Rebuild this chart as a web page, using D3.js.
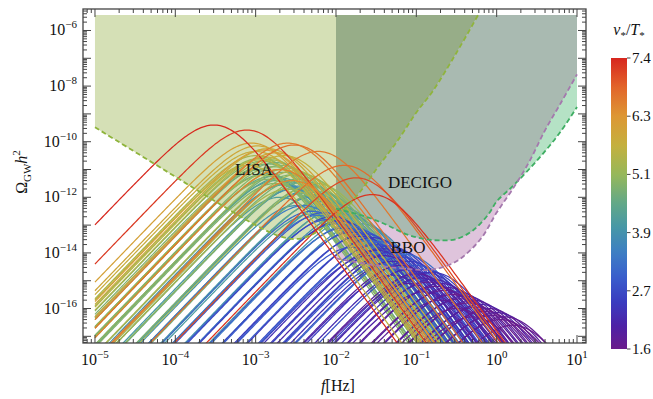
<!DOCTYPE html>
<html>
<head>
<meta charset="utf-8">
<script src="https://cdn.jsdelivr.net/npm/d3@7"></script>
<style>
  body { margin: 0; background: #fff; }
  text { font-family: "Liberation Serif", "Times New Roman", serif; fill: #111; }
</style>
</head>
<body>
<svg id="chart" width="653" height="399"></svg>
<script>
// ---- detector sensitivity curves (log10 f, log10 Omega h^2) ----
const fillTopLog = -5.44;
const lisaLogF = [-5, -4, -3.5, -3, -2.7, -2.5, -2.3, -2.1, -1.9, -1.7, -1.5, -1.23, -1.0, -0.8, -0.5, -0.23];
const lisaLogOmega = [-9.48, -11.26, -12.15, -13.0, -13.4, -13.5, -13.35, -12.95, -12.45, -11.8, -11.0, -9.95, -8.95, -8.2, -6.8, -5.44];
const decigoLogF = [-2, -1.66, -1.4, -1.12, -0.9, -0.71, -0.5, -0.3, -0.1, 0, 0.2, 0.4, 0.6, 0.79, 1.0];
const decigoLogOmega = [-12.41, -12.67, -12.95, -13.33, -13.5, -13.55, -13.5, -13.2, -12.6, -12.15, -11.6, -11.0, -10.35, -9.66, -8.75];
const bboLogF = [-2, -1.5, -1.0, -0.8, -0.5, -0.2, 0, 0.2, 0.4, 0.6, 0.8, 1.0];
const bboLogOmega = [-14.2, -14.45, -14.6, -14.6, -14.3, -13.5, -12.55, -11.7, -10.75, -9.6, -8.6, -7.58];

// ---- GW spectra: [log10 peak f, log10 peak Omega h^2, v*/T*] ----
const tealPeaks = [
  [-2.95,-11.00,4.40],[-2.88,-11.15,4.20],[-2.80,-11.25,4.50],[-2.75,-11.40,4.00],[-2.70,-11.30,4.30],
  [-2.64,-11.55,3.90],[-2.58,-11.45,4.45],[-2.52,-11.70,4.10],[-2.46,-11.60,3.80],[-2.40,-11.85,4.35],
  [-2.35,-11.75,4.00],[-2.30,-12.00,3.75],[-2.25,-11.90,4.25],[-2.20,-12.15,3.95],[-2.15,-12.05,4.50],
  [-2.10,-12.30,3.70],[-2.05,-12.20,4.15],[-2.00,-12.45,3.85],[-1.95,-12.35,4.40],[-1.88,-12.60,3.75],
  [-1.80,-12.75,4.05],[-1.70,-12.95,3.80],[-2.70,-12.00,4.20],[-2.50,-12.30,3.90],[-2.30,-12.60,4.10]
];
const greenPeaks = [
  [-3.00,-10.50,5.30],[-2.95,-10.60,5.10],[-2.92,-10.70,4.95],[-2.88,-10.55,5.40],[-2.85,-10.80,4.80],
  [-2.82,-10.65,5.20],[-2.78,-10.90,5.00],[-2.75,-10.75,4.70],[-2.70,-11.00,5.25],[-2.68,-10.85,4.90],
  [-2.64,-11.10,4.65],[-2.60,-10.95,5.05],[-2.56,-11.20,4.85],[-2.52,-11.05,5.35],[-2.48,-11.35,4.75],
  [-2.45,-11.15,5.15],[-2.40,-11.45,4.60],[-2.36,-11.30,5.00],[-2.32,-11.60,4.80],[-2.25,-11.50,5.20],
  [-2.20,-11.80,4.70],[-2.90,-11.20,5.10],[-2.75,-11.50,4.90],[-2.60,-11.70,5.30],[-2.98,-11.00,4.85],
  [-2.84,-11.35,4.95]
];
const bluePeaks = [
  [-2.40,-12.30,3.50],[-2.30,-12.50,3.20],[-2.22,-12.65,3.40],[-2.15,-12.55,2.95],[-2.10,-12.80,3.10],
  [-2.05,-12.70,2.70],[-2.00,-12.95,3.30],[-1.95,-12.85,2.55],[-1.90,-13.10,2.85],[-1.85,-13.00,3.45],
  [-1.80,-13.25,2.60],[-1.75,-13.15,3.00],[-1.70,-13.40,2.45],[-1.65,-13.30,2.80],[-1.60,-13.55,3.15],
  [-1.55,-13.45,2.50],[-1.50,-13.70,2.75],[-1.45,-13.60,3.05],[-1.40,-13.85,2.40],[-1.35,-13.75,2.65],
  [-1.30,-14.00,2.90],[-1.25,-13.90,2.45],[-1.20,-14.15,2.70],[-1.15,-14.05,3.25],[-1.10,-14.30,2.50],
  [-1.00,-14.45,2.80],[-0.90,-14.60,2.55],[-1.80,-13.80,2.90],[-1.60,-14.10,2.60],[-1.40,-14.40,3.00],
  [-0.80,-14.70,2.40]
];
const purplePeaks = [
  [-1.50,-13.90,2.30],[-1.40,-14.10,2.10],[-1.30,-14.30,2.25],[-1.20,-14.45,1.95],[-1.10,-14.60,2.20],
  [-1.00,-14.75,1.85],[-0.95,-14.90,2.05],[-0.90,-14.70,2.35],[-0.85,-15.05,1.75],[-0.80,-14.95,2.15],
  [-0.75,-15.20,1.70],[-0.70,-15.10,2.00],[-0.65,-15.35,1.65],[-0.60,-15.25,1.90],[-0.55,-15.50,1.60],
  [-0.50,-15.40,2.10],[-0.45,-15.65,1.75],[-0.40,-15.55,1.95],[-0.35,-15.80,1.62],[-0.30,-15.70,1.85],
  [-0.25,-15.95,1.68],[-0.20,-15.85,2.05],[-0.15,-16.10,1.60],[-0.10,-16.00,1.80],[-0.05,-16.25,1.66],
  [0.00,-16.15,1.90],[0.05,-16.40,1.62],[0.10,-16.30,1.72],[0.20,-16.60,1.60],[-1.30,-14.80,2.20],
  [-1.10,-15.10,1.90],[-0.90,-15.40,2.00],[-0.70,-15.70,1.80],[-0.50,-16.00,1.70],[-0.30,-16.30,1.65]
];
const yellowPeaks = [
  [-3.05,-10.05,6.05],[-2.98,-10.15,5.90],[-3.00,-10.35,5.75],[-2.90,-10.30,6.15],[-3.10,-10.85,5.60],
  [-2.85,-10.25,5.80],[-2.75,-10.40,6.00],[-2.65,-10.50,5.70],[-2.95,-10.65,5.55]
];
const redPeaks = [
  [-3.52,-9.40,7.40],[-3.11,-9.58,7.25],[-2.60,-10.05,6.55],[-2.52,-10.12,6.70],[-2.22,-10.35,6.60],
  [-1.90,-10.85,6.75],[-1.75,-11.30,7.10],[-1.55,-11.90,7.30],[-2.70,-11.00,6.50],[-2.55,-11.40,6.45]
];

// colour bar
const cbTicks = [1.58, 2.748, 3.916, 5.084, 6.252, 7.42];
const cmapStops = [0, 0.08, 0.16, 0.25, 0.33, 0.42, 0.5, 0.6, 0.7, 0.8, 0.9, 1];
const cmapColors = ["#6a1b8b","#4d22a6","#3a3bbf","#3a5fcc","#3d7ec4","#4798a6","#62a888","#96b85a","#c4b03e","#dd9734","#e2652a","#d7261e"];

const xTickExp = [-5, -4, -3, -2, -1, 0, 1];
const yLabelExp = [-16, -14, -12, -10, -8, -6];

// ---- layout ----
const L = 83, R = 586, T = 9, B = 343;
const svg = d3.select('#chart');
const x = d3.scaleLog().domain([Math.pow(10, -5.149), Math.pow(10, 1.112)]).range([L, R]);
const y = d3.scaleLog().domain([Math.pow(10, -17.24), Math.pow(10, -5.227)]).range([B, T]);
const vmin = cbTicks[0], vmax = cbTicks[cbTicks.length - 1];
const color = d3.scaleLinear()
  .domain(cmapStops.map(t => vmin + t * (vmax - vmin)))
  .range(cmapColors)
  .interpolate(d3.interpolateRgb);

const defs = svg.append('defs');
defs.append('clipPath').attr('id', 'plotclip')
  .append('rect').attr('x', L).attr('y', T).attr('width', R - L).attr('height', B - T);

const pts = (lf, lo) => lf.map((f, i) => [x(Math.pow(10, f)), y(Math.pow(10, lo[i]))]);
const curveLine = d3.line().curve(d3.curveCatmullRom.alpha(0.5));

function regionPath(lf, lo) {
  const p = pts(lf, lo);
  const top = y(Math.pow(10, fillTopLog));
  const c = curveLine(p).replace(/^M/, 'L');
  return `M${p[0][0]},${top}` + c + `L${p[p.length - 1][0]},${top}Z`;
}
const lisaArea = regionPath(lisaLogF, lisaLogOmega);
const decigoArea = regionPath(decigoLogF, decigoLogOmega);
const bboArea = regionPath(bboLogF, bboLogOmega);

defs.append('clipPath').attr('id', 'decclip').append('path').attr('d', decigoArea);
const unionClip = defs.append('clipPath').attr('id', 'unionclip');
unionClip.append('path').attr('d', decigoArea);
unionClip.append('path').attr('d', bboArea);

const plot = svg.append('g').attr('clip-path', 'url(#plotclip)');

// filled sensitivity regions
plot.append('path').attr('d', bboArea).attr('fill', '#dfc4dc');
plot.append('path').attr('d', decigoArea).attr('fill', '#b5e2c5');
plot.append('path').attr('d', bboArea).attr('fill', '#a9bab1').attr('clip-path', 'url(#decclip)');
plot.append('path').attr('d', lisaArea).attr('fill', '#d5e0b6');
plot.append('g').attr('clip-path', 'url(#unionclip)')
  .append('path').attr('d', lisaArea).attr('fill', '#97ad88');

// GW spectra (sound-wave spectral shape around each peak)
const sampleLogF = d3.range(-5, 1.0001, 0.02);
function spectrum(p) {
  return sampleLogF.map(lf => {
    const u = lf - p[0];
    const s2 = Math.pow(10, 2 * u);
    let lo = p[1] + 3 * u + 3.5 * Math.log10(7 / (4 + 3 * s2));
    lo = Math.max(lo, -18.5);
    return [x(Math.pow(10, lf)), y(Math.pow(10, lo))];
  });
}
const allPeaks = [].concat(tealPeaks, greenPeaks, bluePeaks, purplePeaks, yellowPeaks, redPeaks);
const specLine = d3.line();
plot.append('g').selectAll('path')
  .data(allPeaks)
  .enter()
  .append('path')
  .attr('d', d => specLine(spectrum(d)))
  .attr('fill', 'none')
  .attr('stroke', d => color(d[2]))
  .attr('stroke-width', 1.25);

// dashed borders
const dashed = [
  [lisaLogF, lisaLogOmega, '#8fb43c'],
  [decigoLogF, decigoLogOmega, '#3fae63'],
  [bboLogF, bboLogOmega, '#a478ad']
];
dashed.forEach(d => {
  plot.append('path')
    .attr('d', curveLine(pts(d[0], d[1])))
    .attr('fill', 'none')
    .attr('stroke', d[2])
    .attr('stroke-width', 1.8)
    .attr('stroke-dasharray', '5,3');
});

// detector labels
const labels = [['LISA', 254, 175], ['DECIGO', 420, 188], ['BBO', 408, 253]];
svg.selectAll('.det').data(labels).enter().append('text')
  .attr('class', 'det')
  .attr('x', d => d[1]).attr('y', d => d[2])
  .attr('text-anchor', 'middle')
  .attr('font-size', 17)
  .text(d => d[0]);

// ---- axes: frame + inward ticks ----
const axisColor = '#444';
svg.append('rect').attr('x', L).attr('y', T).attr('width', R - L).attr('height', B - T)
  .attr('fill', 'none').attr('stroke', axisColor).attr('stroke-width', 1.3);

const ticks = svg.append('g').attr('stroke', axisColor).attr('stroke-width', 1);
function decadeTicks(lo, hi) {
  const out = [];
  for (let e = Math.floor(lo); e <= Math.ceil(hi); e++) {
    for (let m = 1; m < 10; m++) {
      const lv = e + Math.log10(m);
      if (lv >= lo && lv <= hi) out.push([Math.pow(10, lv), m === 1]);
    }
  }
  return out;
}
decadeTicks(-5.149, 1.112).forEach(t => {
  const px = x(t[0]), len = t[1] ? 8 : 4;
  ticks.append('line').attr('x1', px).attr('x2', px).attr('y1', B).attr('y2', B - len);
  ticks.append('line').attr('x1', px).attr('x2', px).attr('y1', T).attr('y2', T + len);
});
decadeTicks(-17.24, -5.227).forEach(t => {
  const py = y(t[0]), len = t[1] ? 8 : 4;
  ticks.append('line').attr('x1', L).attr('x2', L + len).attr('y1', py).attr('y2', py);
  ticks.append('line').attr('x1', R).attr('x2', R - len).attr('y1', py).attr('y2', py);
});

function powLabel(sel, e) {
  sel.append('tspan').text('10');
  sel.append('tspan').attr('dy', -7).attr('font-size', 11).text(e < 0 ? '\u2212' + (-e) : '' + e);
}
xTickExp.forEach(e => {
  const t = svg.append('text').attr('x', x(Math.pow(10, e))).attr('y', 365)
    .attr('text-anchor', 'middle').attr('font-size', 16);
  powLabel(t, e);
});
yLabelExp.forEach(e => {
  const t = svg.append('text').attr('x', 77).attr('y', y(Math.pow(10, e)) + 5)
    .attr('text-anchor', 'end').attr('font-size', 16);
  powLabel(t, e);
});

// axis titles
const xt = svg.append('text').attr('x', 338).attr('y', 391).attr('text-anchor', 'middle').attr('font-size', 16);
xt.append('tspan').attr('font-style', 'italic').text('f');
xt.append('tspan').text('[Hz]');

const yt = svg.append('text').attr('transform', 'translate(27,172) rotate(-90)')
  .attr('text-anchor', 'middle').attr('font-size', 16);
yt.append('tspan').text('\u03A9');
yt.append('tspan').attr('dy', 4).attr('font-size', 11).text('GW');
yt.append('tspan').attr('dy', -4).attr('font-style', 'italic').text('h');
yt.append('tspan').attr('dy', -7).attr('font-size', 11).text('2');

// ---- colour bar ----
const cbX = 611, cbW = 16, cbTop = 58, cbBot = 349;
const grad = defs.append('linearGradient').attr('id', 'cbgrad')
  .attr('x1', 0).attr('y1', 1).attr('x2', 0).attr('y2', 0);
d3.range(0, 1.0001, 0.02).forEach(t => {
  grad.append('stop').attr('offset', t).attr('stop-color', color(vmin + t * (vmax - vmin)));
});
svg.append('rect').attr('x', cbX).attr('y', cbTop).attr('width', cbW).attr('height', cbBot - cbTop)
  .attr('fill', 'url(#cbgrad)');
const cy = d3.scaleLinear().domain([vmin, vmax]).range([cbBot, cbTop]);
cbTicks.forEach(v => {
  svg.append('line').attr('x1', cbX + cbW).attr('x2', cbX + cbW + 3.5)
    .attr('y1', cy(v)).attr('y2', cy(v)).attr('stroke', axisColor);
  svg.append('text').attr('x', cbX + cbW + 5).attr('y', cy(v) + 5)
    .attr('font-size', 15).text(d3.format('.1f')(v));
});
const ct = svg.append('text').attr('x', 629).attr('y', 35).attr('text-anchor', 'middle').attr('font-size', 16);
ct.append('tspan').attr('font-style', 'italic').text('v');
ct.append('tspan').attr('dy', 4).attr('font-size', 11).text('*');
ct.append('tspan').attr('dy', -4).text('/');
ct.append('tspan').attr('font-style', 'italic').text('T');
ct.append('tspan').attr('dy', 4).attr('font-size', 11).text('*');
</script>
</body>
</html>
